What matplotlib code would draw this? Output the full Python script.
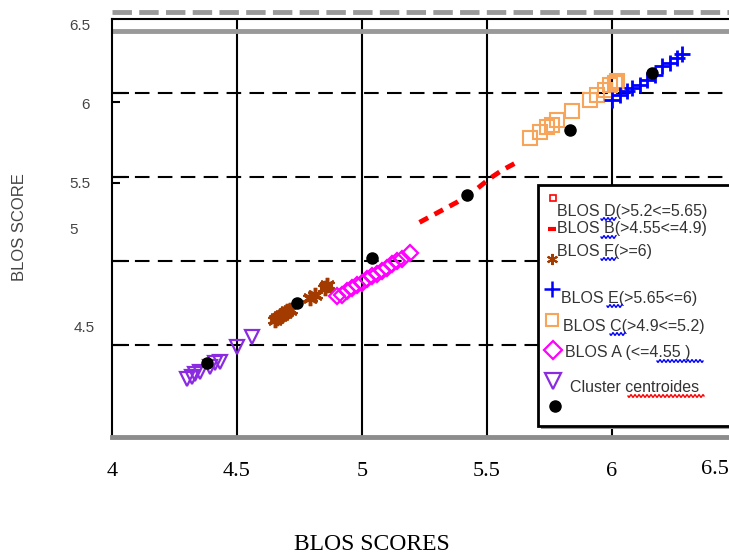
import numpy as np
import matplotlib.pyplot as plt
from matplotlib.patches import Rectangle

# données (x = score BLOS, y = score BLOS)
a_x = [4.30, 4.32, 4.33, 4.35, 4.39, 4.41, 4.43, 4.50, 4.56]
a_y = [4.30, 4.31, 4.33, 4.34, 4.37, 4.39, 4.40, 4.49, 4.55]

b_x = [4.65, 4.66, 4.67, 4.68, 4.69, 4.70, 4.71, 4.79, 4.81, 4.85, 4.86]
b_y = [4.65, 4.66, 4.67, 4.68, 4.69, 4.70, 4.71, 4.78, 4.80, 4.84, 4.86]

c_x = [4.90, 4.92, 4.94, 4.96, 4.98, 5.00, 5.02, 5.04, 5.06, 5.08, 5.10, 5.12, 5.14, 5.16, 5.19]
c_y = [4.79, 4.80, 4.82, 4.84, 4.86, 4.87, 4.89, 4.91, 4.92, 4.94, 4.96, 4.98, 5.00, 5.01, 5.05]

d_x = [5.23, 5.28, 5.33, 5.38, 5.42, 5.46, 5.51, 5.56, 5.61]
d_y = [5.23, 5.27, 5.31, 5.35, 5.39, 5.43, 5.49, 5.54, 5.58]

e_x = [5.67, 5.71, 5.74, 5.76, 5.78, 5.84, 5.91, 5.94, 5.97, 5.99, 6.01, 6.02]
e_y = [5.73, 5.77, 5.80, 5.81, 5.84, 5.89, 5.96, 5.99, 6.02, 6.05, 6.06, 6.07]

f_x = [6.00, 6.03, 6.06, 6.08, 6.11, 6.14, 6.17, 6.20, 6.23, 6.26, 6.28]
f_y = [5.96, 5.99, 6.01, 6.03, 6.05, 6.08, 6.11, 6.16, 6.18, 6.21, 6.23]

cent_x = [4.38, 4.74, 5.04, 5.42, 5.83, 6.16]
cent_y = [4.39, 4.75, 5.02, 5.39, 5.78, 6.12]

x_ticks = [4, 4.5, 5, 5.5, 6]
x_ticklabels = ["4", "4.5", "5", "5.5", "6"]
grid_y = [4.5, 5, 5.5, 6]

# étiquettes de l'axe y (mal placées sur l'original)
y_labels = ["6.5", "6", "5.5", "5", "4.5"]
y_label_pos = [6.40, 5.93, 5.46, 5.185, 4.60]
y_label_right = [90, 90, 90, 78, 95]

W, H = 729, 556


def fx(px):
    return px / W


def fy(py):
    return 1 - py / H


# soulignement ondulé (correcteur orthographique)
def squiggle(x0, x1, y, color):
    xs = np.arange(x0, x1 + 0.5, 0.5)
    ys = y + 1.3 * np.sin((xs - x0) * np.pi / 2)
    fig.lines.append(plt.Line2D(fx(xs), fy(ys), color=color, lw=1,
                                transform=fig.transFigure, zorder=8))


fig = plt.figure(figsize=(W / 100, H / 100), dpi=100)
ax = fig.add_axes([fx(112), fy(437), fx(729) - fx(112), fy(19) - fy(437)])
ax.set_xlim(4, 4 + 617 / 250)
ax.set_ylim(6 - 344 / 168, 6 + 74 / 168)

# grille
for gx in x_ticks[1:]:
    ax.axvline(gx, color="black", lw=1.5, zorder=1)
for gy in grid_y:
    ax.axhline(gy, color="black", lw=1.5, ls=(0, (7, 4)), zorder=1)
ax.axhline(6 + 62 / 168, color="#999999", lw=3.5, zorder=1)
ax.axhline(6 + 81 / 168, color="#999999", lw=3.5, ls=(0, (4, 1.5)), clip_on=False)

# séries
ax.plot(a_x, a_y, "v", ms=10, mfc="none", mec="#8a2be2", mew=1.6, zorder=3)
ax.plot(b_x, b_y, ls="none", marker=(6, 2, 0), ms=11, mec="#a33a00", mew=2.5, zorder=3)
ax.plot(c_x, c_y, "D", ms=8, mfc="none", mec="#ff00ff", mew=1.6, zorder=3)
ax.plot(d_x, d_y, color="red", lw=3.5, ls=(0, (2, 1.5)), zorder=3)
ax.plot(e_x, e_y, "s", ms=10, mfc="none", mec="#f6a55a", mew=1.5, zorder=3)
ax.plot(f_x, f_y, "+", ms=11, color="blue", mew=2, zorder=3)
ax.plot(cent_x, cent_y, "o", ms=8, color="black", zorder=4)

# axes
ax.set_xticks(x_ticks)
ax.set_xticklabels(x_ticklabels, family="Liberation Serif", fontsize=16)
ax.tick_params(axis="x", length=0, pad=18)
ax.set_yticks(grid_y)
ax.set_yticks([5.946, 5.464], minor=True)
ax.set_yticklabels([])
ax.tick_params(axis="y", which="major", direction="in", length=12, width=1.5)
ax.tick_params(axis="y", which="minor", direction="in", length=6, width=1.5)
fig.text(1.0, fy(469), "6.5", ha="right", va="center",
         family="Liberation Serif", fontsize=16)

for lab, yp, xr in zip(y_labels, y_label_pos, y_label_right):
    ax.text((xr - 112) / 617, yp, lab, transform=ax.get_yaxis_transform(),
            ha="right", va="center", family="Liberation Sans", fontsize=11, color="#444444")

ax.spines["right"].set_visible(False)
ax.spines["left"].set_linewidth(1.5)
ax.spines["top"].set_linewidth(1.5)
ax.spines["bottom"].set_color("#8c8c8c")
ax.spines["bottom"].set_linewidth(3.5)

fig.text(fx(20), fy(227), "BLOS SCORE", rotation=90, ha="center", va="center",
         family="Liberation Sans", fontsize=12, color="#444444")
fig.text(fx(372), fy(545), "BLOS SCORES", ha="center", va="center",
         family="Liberation Serif", fontsize=17)

# légende dessinée à la main
fig.patches.append(Rectangle((fx(541), fy(429)), fx(200), fy(188) - fy(429),
                             transform=fig.transFigure, fc="#999999", ec="none", zorder=5))
fig.patches.append(Rectangle((fx(538), fy(426)), fx(200), fy(185) - fy(426),
                             transform=fig.transFigure, fc="white", ec="black", lw=2, zorder=6))

leg_rows = [
    ("s", dict(ms=4, mfc="none", mec="red", mew=1.2), 553, 198, "BLOS D(>5.2<=5.65)", 557, 211),
    ("_", dict(ms=6, color="red", mew=3), 552, 229, "BLOS B(>4.55<=4.9)", 557, 229),
    ((6, 2, 0), dict(ms=8, mec="#a33a00", mew=1.5), 552, 259, "BLOS F(>=6)", 557, 251),
    ("+", dict(ms=11, color="blue", mew=1.8), 552, 289, "BLOS E(>5.65<=6)", 561, 298),
    ("s", dict(ms=9, mfc="none", mec="#f6a55a", mew=1.5), 552, 320, "BLOS C(>4.9<=5.2)", 563, 326),
    ("D", dict(ms=9, mfc="none", mec="#ff00ff", mew=1.6), 553, 350, "BLOS A (<=4.55 )", 565, 353),
    ("v", dict(ms=12, mfc="none", mec="#8a2be2", mew=1.6), 553, 381, "Cluster centroides", 570, 388),
    ("o", dict(ms=8, color="black"), 555, 406, "", 0, 0),
]
for mk, kw, mx, my, lab, tx, ty in leg_rows:
    fig.lines.append(plt.Line2D([fx(mx)], [fy(my)], marker=mk, ls="none",
                                transform=fig.transFigure, zorder=7, **kw))
    if lab:
        fig.text(fx(tx), fy(ty), lab, ha="left", va="center", family="Liberation Sans",
                 fontsize=11.5, color="#333333", zorder=7)

squiggle(601, 616, 219, "blue")
squiggle(601, 616, 237, "blue")
squiggle(601, 616, 259, "blue")
squiggle(607, 622, 306, "blue")
squiggle(610, 625, 334, "blue")
squiggle(657, 703, 361, "blue")
squiggle(628, 704, 396, "red")

fig.savefig("out.png", dpi=100)
